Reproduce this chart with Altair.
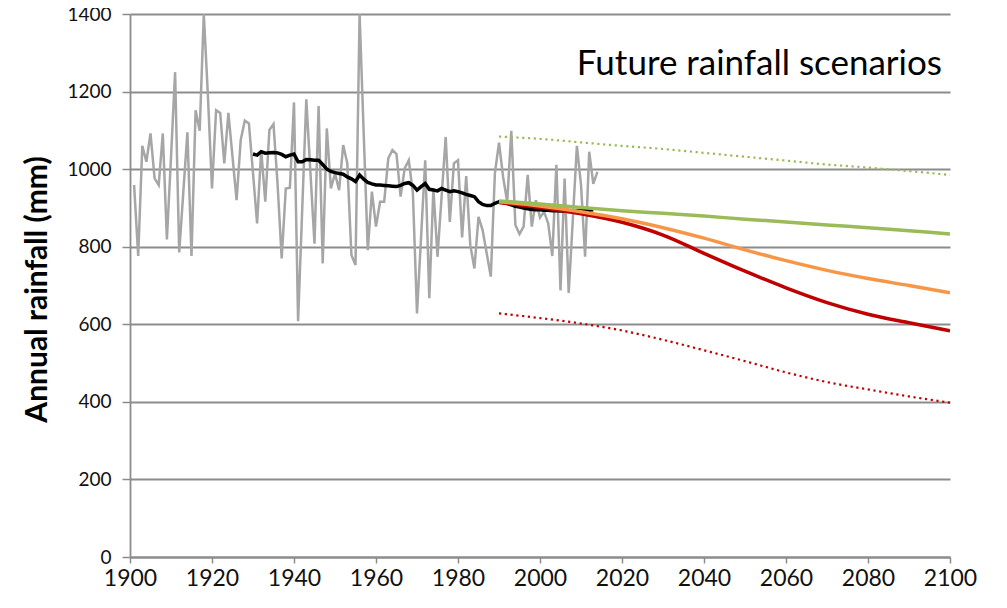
import altair as alt
import pandas as pd

# Observed annual rainfall (mm)
obs_years = list(range(1901, 2015))
obs_rain = [959, 776, 1060, 1019, 1092, 976, 959, 1092, 819, 1030,
            1250, 785, 940, 1095, 776, 1152, 1099, 1400, 1190, 950,
            1152, 1145, 1015, 1145, 1032, 920, 1075, 1125, 1118, 990,
            860, 1049, 916, 1101, 1116, 960, 770, 950, 952, 1172,
            608, 895, 1180, 993, 808, 1163, 757, 1105, 950, 989,
            946, 1062, 1015, 779, 753, 1400, 1092, 791, 942, 852,
            916, 916, 1028, 1049, 1039, 929, 1002, 1023, 938, 628,
            826, 1023, 667, 950, 774, 929, 1083, 864, 1015, 1023,
            824, 982, 804, 744, 877, 843, 783, 723, 990, 1068,
            980, 915, 1099, 856, 833, 852, 985, 852, 920, 875,
            890, 860, 776, 1011, 687, 976, 681, 869, 1060, 960,
            774, 1045, 962, 993]

# 30-year moving average
ma_years = list(range(1930, 2014))
ma_rain = [1039, 1036, 1045, 1041, 1042, 1043, 1042, 1038, 1032, 1036,
           1039, 1019, 1019, 1025, 1024, 1023, 1023, 1012, 1000, 994,
           991, 989, 987, 980, 975, 968, 985, 974, 966, 962,
           959, 959, 958, 957, 956, 955, 958, 963, 965, 958,
           946, 955, 963, 948, 946, 944, 950, 946, 942, 944,
           942, 939, 935, 932, 929, 916, 909, 906, 906, 912,
           916, 914, 911, 908, 904, 902, 900, 898, 896, 895,
           895, 894, 894, 893, 893, 892, 892, 891, 892, 893,
           893, 893, 894, 895]

# Future scenarios
sc_years = [1990, 2000, 2010, 2020, 2030, 2040, 2050, 2060, 2070, 2080, 2090, 2100]
green_solid = [918, 910, 901, 893, 886, 879, 871, 864, 856, 849, 841, 833]
orange_solid = [916, 905, 890, 872, 849, 822, 792, 764, 739, 718, 700, 681]
red_solid = [914, 901, 885, 863, 830, 783, 737, 694, 656, 626, 604, 583]
green_dotted = [1084, 1078, 1069, 1060, 1052, 1042, 1032, 1022, 1012, 1004, 995, 985]
red_dotted = [628, 616, 602, 584, 560, 533, 505, 476, 451, 432, 414, 398]

FONT = "Lato"

x_scale = alt.Scale(domain=[1900, 2100], nice=False, zero=False)
y_scale = alt.Scale(domain=[0, 1400], nice=False)

x_axis = alt.Axis(values=list(range(1900, 2101, 20)), format="d", grid=False,
                  domainColor="#8c8c8c", domainWidth=1.8, tickColor="#8c8c8c",
                  tickWidth=1.5, tickSize=6, labelFont=FONT, labelFontSize=23,
                  labelColor="#111111", labelPadding=4, title=None,
                  labelFlush=False, labelOverlap=False)
y_axis = alt.Axis(values=list(range(0, 1401, 200)), format="d", grid=True,
                  gridColor="#8c8c8c", gridWidth=1.8, domainColor="#8c8c8c",
                  domainWidth=1.8, tickColor="#8c8c8c", tickWidth=1.5, tickSize=8,
                  labelFont=FONT, labelFontSize=19, labelColor="#111111",
                  labelPadding=11, labelFlush=False, labelOverlap=False,
                  title="Annual rainfall (mm)",
                  titleFont=FONT, titleFontSize=30, titleFontWeight="bold",
                  titleColor="#000000", titleAngle=-90, titleX=-93, titleY=275,
                  titleAlign="center", titleBaseline="middle")


def line_layer(years, vals, color, width, dash=None, interp="linear"):
    df = pd.DataFrame({"year": years, "rain": vals})
    kw = dict(color=color, strokeWidth=width, interpolate=interp, clip=True)
    if dash is not None:
        kw["strokeDash"] = dash
        kw["strokeCap"] = "butt"
    return alt.Chart(df).mark_line(**kw).encode(
        x=alt.X("year:Q", scale=x_scale, axis=x_axis),
        y=alt.Y("rain:Q", scale=y_scale, axis=y_axis),
    )


gray = line_layer(obs_years, obs_rain, "#A6A6A6", 2.5)
black = line_layer(ma_years, ma_rain, "#000000", 3.5)
gd = line_layer(sc_years, green_dotted, "#9BBB59", 2.2, dash=[2.2, 3.6], interp="monotone")
rd = line_layer(sc_years, red_dotted, "#C00000", 2.2, dash=[2.2, 3.6], interp="monotone")
rs = line_layer(sc_years, red_solid, "#C00000", 3.5, interp="monotone")
os_ = line_layer(sc_years, orange_solid, "#F79646", 3.5, interp="monotone")
gs = line_layer(sc_years, green_solid, "#9BBB59", 3.5, interp="monotone")

label = alt.Chart(pd.DataFrame({"t": ["Future rainfall scenarios"]})).mark_text(
    font=FONT, fontSize=35, align="right", baseline="middle", color="#000000"
).encode(text="t:N", x=alt.value(812), y=alt.value(50))

chart = alt.layer(gray, black, gd, rd, rs, os_, gs, label).properties(
    width=820, height=543,
    autosize=alt.AutoSizeParams(type="none"),
    padding={"left": 122, "top": 6, "right": 40, "bottom": 40},
    background="#ffffff",
).configure_view(stroke=None)

chart.save("out.html", embed_options={"renderer": "svg", "actions": False})
